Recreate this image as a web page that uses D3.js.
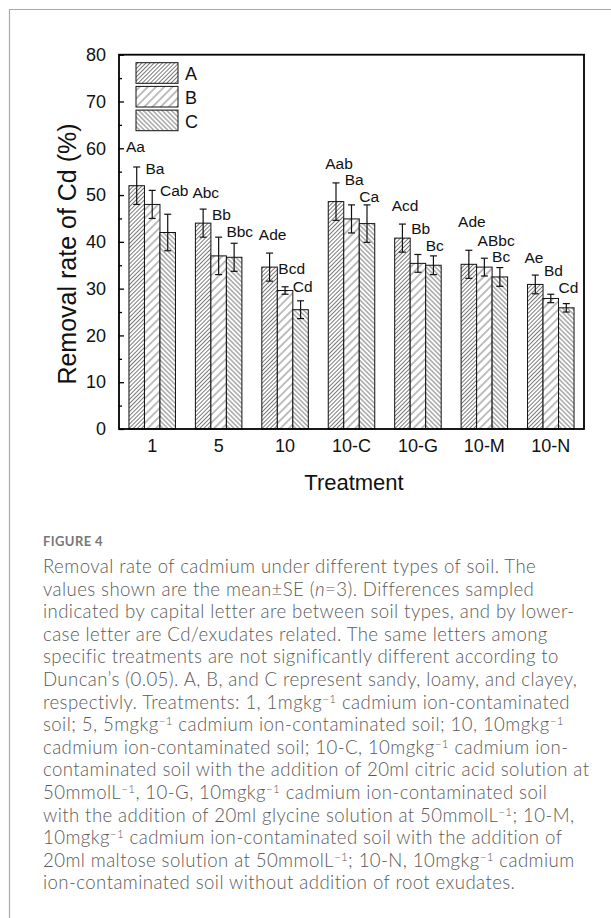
<!DOCTYPE html>
<html>
<head>
<meta charset="utf-8">
<script src="https://cdn.jsdelivr.net/npm/d3@7"></script>
<style>
  body { margin: 0; background: #fff; }
  svg { display: block; }
</style>
</head>
<body>
<svg id="chart" width="611" height="918"></svg>
<script>
// treatments on the x axis
const groups = ["1", "5", "10", "10-C", "10-G", "10-M", "10-N"];
const soils = ["A", "B", "C"];

// mean removal rate (%) and SE per soil type
const meanA = [52.0, 44.0, 34.6, 48.6, 40.8, 35.2, 30.9];
const seA   = [4.0, 3.0, 3.0, 4.0, 3.0, 3.0, 2.0];
const meanB = [48.0, 37.0, 29.6, 44.9, 35.4, 34.6, 27.9];
const seB   = [3.0, 4.0, 0.8, 3.0, 1.9, 1.9, 0.9];
const meanC = [42.0, 36.7, 25.5, 43.9, 35.0, 32.5, 25.9];
const seC   = [3.9, 3.0, 1.9, 4.0, 2.0, 2.0, 0.9];

// significance letters and the value (%) where each sits
const lettersA = ["Aa", "Abc", "Ade", "Aab", "Acd", "Ade", "Ae"];
const lettersB = ["Ba", "Bb", "Bcd", "Ba", "Bb", "ABbc", "Bd"];
const lettersC = ["Cab", "Bbc", "Cd", "Ca", "Bc", "Bc", "Cd"];
const letterYA = [59.1, 49.4, 40.4, 55.6, 46.5, 43.1, 35.4];
const letterYB = [54.5, 44.6, 33.2, 52.1, 41.6, 39.2, 32.7];
const letterYC = [49.8, 41.0, 29.2, 48.6, 38.1, 35.6, 29.0];

const yTicks = [0, 10, 20, 30, 40, 50, 60, 70, 80];

const rows = groups.map((g, i) => ({
	group: g,
	bars: [
		{soil: "A", v: meanA[i], se: seA[i], lab: lettersA[i], ly: letterYA[i]},
		{soil: "B", v: meanB[i], se: seB[i], lab: lettersB[i], ly: letterYB[i]},
		{soil: "C", v: meanC[i], se: seC[i], lab: lettersC[i], ly: letterYC[i]}
	]
}));

const svg = d3.select("#chart");
const font = "Arial, 'Liberation Sans', sans-serif";

const plotL = 119, plotR = 584, plotT = 54.7, plotB = 429;

const x0 = d3.scaleBand().domain(groups).range([plotL, plotR]).paddingInner(0.3).paddingOuter(0.15);
const x1 = d3.scaleBand().domain(soils).range([0, x0.bandwidth()]);
const y = d3.scaleLinear().domain([0, 80]).range([plotB, plotT]);

// hatch patterns
const defs = svg.append("defs");
const hatch = (id, gap, angle) => {
	const p = defs.append("pattern")
		.attr("id", id)
		.attr("patternUnits", "userSpaceOnUse")
		.attr("width", gap).attr("height", gap)
		.attr("patternTransform", `rotate(${angle})`);
	p.append("rect").attr("width", gap).attr("height", gap).attr("fill", "#fff");
	p.append("line")
		.attr("x1", gap / 2).attr("y1", 0).attr("x2", gap / 2).attr("y2", gap)
		.attr("stroke", "#444").attr("stroke-width", 0.7);
};
hatch("hA", 2.9, 45);
hatch("hB", 5.8, 45);
hatch("hC", 3.3, -45);
const fillOf = {A: "url(#hA)", B: "url(#hB)", C: "url(#hC)"};

// outer border of the figure panel
svg.append("path")
	.attr("d", "M9.5,930V9.5H620")
	.attr("fill", "none").attr("stroke", "#aaa").attr("stroke-width", 1.2);

// bars
const g = svg.append("g")
	.selectAll("g")
	.data(rows)
	.join("g")
	.attr("transform", d => `translate(${x0(d.group)},0)`);

g.selectAll("rect")
	.data(d => d.bars)
	.join("rect")
	.attr("x", d => x1(d.soil))
	.attr("y", d => y(d.v))
	.attr("width", x1.bandwidth())
	.attr("height", d => y(0) - y(d.v))
	.attr("fill", d => fillOf[d.soil])
	.attr("stroke", "#111").attr("stroke-width", 1);

// error bars
const eb = g.selectAll("g.err")
	.data(d => d.bars)
	.join("g").attr("class", "err")
	.attr("stroke", "#111").attr("stroke-width", 1.2);
const cx = d => x1(d.soil) + x1.bandwidth() / 2;
eb.append("line")
	.attr("x1", cx).attr("x2", cx)
	.attr("y1", d => y(d.v + d.se)).attr("y2", d => y(d.v - d.se));
eb.append("line")
	.attr("x1", d => cx(d) - 3.5).attr("x2", d => cx(d) + 3.5)
	.attr("y1", d => y(d.v + d.se)).attr("y2", d => y(d.v + d.se));
eb.append("line")
	.attr("x1", d => cx(d) - 3.5).attr("x2", d => cx(d) + 3.5)
	.attr("y1", d => y(d.v - d.se)).attr("y2", d => y(d.v - d.se));

// letters: A labels sit a little left of their bar, as in the original
const labelShift = {A: -3, B: 1, C: 0};
g.selectAll("text")
	.data(d => d.bars)
	.join("text")
	.attr("x", d => x1(d.soil) + labelShift[d.soil])
	.attr("y", d => y(d.ly))
	.attr("font-family", font).attr("font-size", 15.5)
	.attr("fill", "#111")
	.text(d => d.lab);

// frame
svg.append("rect")
	.attr("x", plotL).attr("y", plotT)
	.attr("width", plotR - plotL).attr("height", plotB - plotT)
	.attr("fill", "none").attr("stroke", "#000").attr("stroke-width", 1.8);

// y axis, ticks pointing inward
const yAxis = svg.append("g")
	.attr("transform", `translate(${plotL},0)`)
	.call(d3.axisLeft(y).tickValues(yTicks).tickSize(-5).tickPadding(13))
	.call(a => a.select(".domain").remove());
yAxis.selectAll("line").attr("stroke", "#000").attr("stroke-width", 1.3);
yAxis.selectAll("text").attr("font-family", font).attr("font-size", 18).attr("fill", "#111");
svg.append("g")
	.attr("transform", `translate(${plotL},0)`)
	.call(d3.axisLeft(y).tickValues(d3.range(5, 80, 10)).tickSize(-3).tickFormat(""))
	.call(a => a.select(".domain").remove())
	.selectAll("line").attr("stroke", "#000").attr("stroke-width", 1.3);

// x axis labels (no ticks)
const xAxis = svg.append("g")
	.attr("transform", `translate(0,${plotB})`)
	.call(d3.axisBottom(x0).tickSize(0).tickPadding(10))
	.call(a => a.select(".domain").remove());
xAxis.selectAll("text").attr("font-family", font).attr("font-size", 18).attr("fill", "#111");

// axis titles
svg.append("text")
	.attr("x", 354).attr("y", 490)
	.attr("text-anchor", "middle")
	.attr("font-family", font).attr("font-size", 22).attr("fill", "#111")
	.text("Treatment");
svg.append("text")
	.attr("transform", "translate(76,254) rotate(-90)")
	.attr("text-anchor", "middle")
	.attr("font-family", font).attr("font-size", 25).attr("fill", "#111")
	.text("Removal rate of Cd (%)");

// legend
const leg = svg.append("g")
	.selectAll("g")
	.data(soils)
	.join("g")
	.attr("transform", (d, i) => `translate(136,${62.7 + i * 23.7})`);
leg.append("rect")
	.attr("width", 42).attr("height", 20.6)
	.attr("fill", d => fillOf[d])
	.attr("stroke", "#111").attr("stroke-width", 1);
leg.append("text")
	.attr("x", 49).attr("y", 17.5)
	.attr("font-family", font).attr("font-size", 18).attr("fill", "#111")
	.text(d => d);

// caption
const capFont = "Lato, 'Open Sans', sans-serif";
svg.append("text")
	.attr("x", 43).attr("y", 546)
	.attr("font-family", capFont).attr("font-size", 13).attr("font-weight", 700)
	.attr("letter-spacing", 0.4)
	.attr("fill", "#777")
	.text("FIGURE 4");

// each line is a list of [text, style] pieces: "" plain, "i" italic, "s" superscript
const SUP = "−1";
const captionLines = [
	[["Removal rate of cadmium under different types of soil. The", ""]],
	[["values shown are the mean±SE (", ""], ["n", "i"], ["=3). Differences sampled", ""]],
	[["indicated by capital letter are between soil types, and by lower-", ""]],
	[["case letter are Cd/exudates related. The same letters among", ""]],
	[["specific treatments are not significantly different according to", ""]],
	[["Duncan’s (0.05). A, B, and C represent sandy, loamy, and clayey,", ""]],
	[["respectivly. Treatments: 1, 1mgkg", ""], [SUP, "s"], [" cadmium ion-contaminated", ""]],
	[["soil; 5, 5mgkg", ""], [SUP, "s"], [" cadmium ion-contaminated soil; 10, 10mgkg", ""], [SUP, "s"]],
	[["cadmium ion-contaminated soil; 10-C, 10mgkg", ""], [SUP, "s"], [" cadmium ion-", ""]],
	[["contaminated soil with the addition of 20ml citric acid solution at", ""]],
	[["50mmolL", ""], [SUP, "s"], [", 10-G, 10mgkg", ""], [SUP, "s"], [" cadmium ion-contaminated soil", ""]],
	[["with the addition of 20ml glycine solution at 50mmolL", ""], [SUP, "s"], ["; 10-M,", ""]],
	[["10mgkg", ""], [SUP, "s"], [" cadmium ion-contaminated soil with the addition of", ""]],
	[["20ml maltose solution at 50mmolL", ""], [SUP, "s"], ["; 10-N, 10mgkg", ""], [SUP, "s"], [" cadmium", ""]],
	[["ion-contaminated soil without addition of root exudates.", ""]]
];

const cap = svg.append("g")
	.attr("font-family", capFont).attr("font-size", 18.6).attr("font-weight", 300)
	.attr("letter-spacing", 0.42)
	.attr("fill", "#5a5a5a");
captionLines.forEach((line, i) => {
	const t = cap.append("text").attr("x", 43).attr("y", 573 + i * 22.6);
	let raised = false;
	line.forEach(([s, k]) => {
		const ts = t.append("tspan").text(s);
		if (k === "i") ts.attr("font-style", "italic");
		if (k === "s") {
			ts.attr("font-size", 11.5).attr("dy", -6);
			raised = true;
		} else if (raised) {
			ts.attr("dy", 6);
			raised = false;
		}
	});
});
</script>
</body>
</html>
